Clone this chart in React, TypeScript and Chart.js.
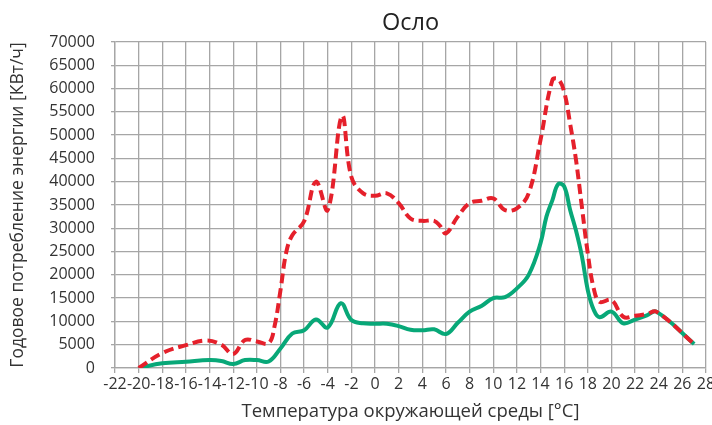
import React, { useEffect, useRef } from "react";
import { Chart, registerables } from "chart.js";

Chart.register(...registerables);

const chartTitle = "Осло";
const xAxisTitle = "Температура окружающей среды [°C]";
const yAxisTitle = "Годовое потребление энергии [КВт/ч]";

const xMin = -22;
const xMax = 28;
const xStep = 2;
const yMin = 0;
const yMax = 70000;
const yStep = 5000;

// Red dashed series (total)
const totalTemps = [-20, -18, -16, -14.3, -13, -12, -11, -10, -9, -8.5, -8, -7.5, -7, -6, -5, -4, -2.8, -2, -1, 0, 1, 2, 3, 4, 5, 5.5, 6, 7, 8, 9, 10, 11, 12, 13, 14, 15, 15.5, 16, 16.5, 17, 17.5, 18, 18.5, 19, 20, 21, 22, 23, 23.8, 27];
const totalValues = [0, 3200, 4900, 5900, 5000, 3000, 6000, 5700, 5300, 9000, 16700, 25000, 28500, 31500, 40000, 33900, 54100, 41000, 37500, 37000, 37500, 35400, 32100, 31600, 31600, 30500, 28900, 32500, 35400, 35900, 36400, 33900, 34300, 37500, 49000, 61800, 62000, 59300, 52500, 44700, 34600, 24600, 17100, 14200, 14600, 11000, 11200, 11600, 12100, 5150];

// Green solid series
const partTemps = [-20, -18, -16, -14, -13, -12, -11, -10, -9, -8, -7, -6, -5, -4, -2.9, -2, -1, 0, 1, 2, 3, 4, 5, 6, 7, 8, 9, 10, 11, 12, 13, 14, 14.5, 15, 15.5, 16, 16.5, 17, 17.5, 18, 18.5, 19, 20, 21, 22, 23, 23.8, 27];
const partValues = [0, 1000, 1350, 1700, 1500, 850, 1700, 1700, 1400, 4200, 7400, 8100, 10400, 8700, 13900, 10300, 9600, 9500, 9500, 9000, 8200, 8100, 8300, 7300, 9700, 12100, 13300, 15000, 15200, 17100, 20000, 26800, 32500, 36000, 39500, 39000, 34000, 29500, 24000, 16700, 12500, 10900, 12100, 9600, 10400, 11300, 12100, 5150];

const FONT = "'Open Sans', 'DejaVu Sans', sans-serif";
const GRID = "#a6a6a6";
const TEXT = "#333333";

const plotTitlePlugin = {
  id: "plotTitle",
  afterDraw(chart: any) {
    const { ctx, chartArea } = chart;
    ctx.save();
    ctx.font = `normal 23.5px ${FONT}`;
    ctx.fillStyle = "#222222";
    ctx.textAlign = "center";
    ctx.textBaseline = "middle";
    ctx.fillText(chartTitle, (chartArea.left + chartArea.right) / 2, 23);
    ctx.restore();
  },
};

export default function App() {
  const canvasRef = useRef<HTMLCanvasElement | null>(null);

  useEffect(() => {
    if (!canvasRef.current) return;
    const totalData = totalTemps.map((t, i) => ({ x: t, y: totalValues[i] }));
    const partData = partTemps.map((t, i) => ({ x: t, y: partValues[i] }));

    const chart = new Chart(canvasRef.current, {
      type: "line",
      data: {
        datasets: [
          {
            data: totalData,
            borderColor: "#e5202b",
            borderWidth: 4,
            borderDash: [10, 5],
            pointRadius: 0,
            tension: 0.4,
            fill: false,
            order: 0,
          },
          {
            data: partData,
            borderColor: "#08a878",
            borderWidth: 4,
            pointRadius: 0,
            tension: 0.4,
            fill: false,
            order: 1,
          },
        ],
      },
      options: {
        animation: false,
        responsive: true,
        maintainAspectRatio: false,
        layout: { padding: { left: 0, right: 6, top: 42, bottom: 0 } },
        plugins: {
          legend: { display: false },
          tooltip: { enabled: false },
          title: { display: false },
        },
        scales: {
          x: {
            type: "linear",
            min: xMin,
            max: xMax,
            ticks: {
              stepSize: xStep,
              autoSkip: false,
              maxRotation: 0,
              minRotation: 0,
              color: TEXT,
              padding: 2,
              font: { family: FONT, size: 16 },
              callback: (v: any) => String(v),
            },
            grid: { color: GRID, lineWidth: 1.3, tickLength: 5 },
            border: { color: GRID, width: 1.3 },
            title: {
              display: true,
              text: xAxisTitle,
              color: TEXT,
              font: { family: FONT, size: 18.5 },
              padding: { top: 0, bottom: 2 },
            },
            afterFit: (s: any) => {
              s.height = 57;
              s.paddingLeft = 0;
              s.paddingRight = 0;
            },
          },
          y: {
            min: yMin,
            max: yMax,
            ticks: {
              stepSize: yStep,
              color: TEXT,
              padding: 16,
              font: { family: FONT, size: 16 },
              callback: (v: any) => String(v),
            },
            grid: { color: GRID, lineWidth: 1.3, tickLength: 4 },
            border: { color: GRID, width: 1.3 },
            title: {
              display: true,
              text: yAxisTitle,
              color: TEXT,
              font: { family: FONT, size: 17.5 },
              padding: { top: 7.5, bottom: 0 },
            },
            afterFit: (s: any) => {
              s.width = 115;
              s.paddingTop = 0;
              s.paddingBottom = 0;
            },
          },
        },
      },
      plugins: [plotTitlePlugin],
    } as any);
    return () => chart.destroy();
  }, []);

  return (
    <div style={{ position: "absolute", left: 0, top: 0, width: 712, height: 425, background: "#ffffff" }}>
      <canvas ref={canvasRef} />
    </div>
  );
}
